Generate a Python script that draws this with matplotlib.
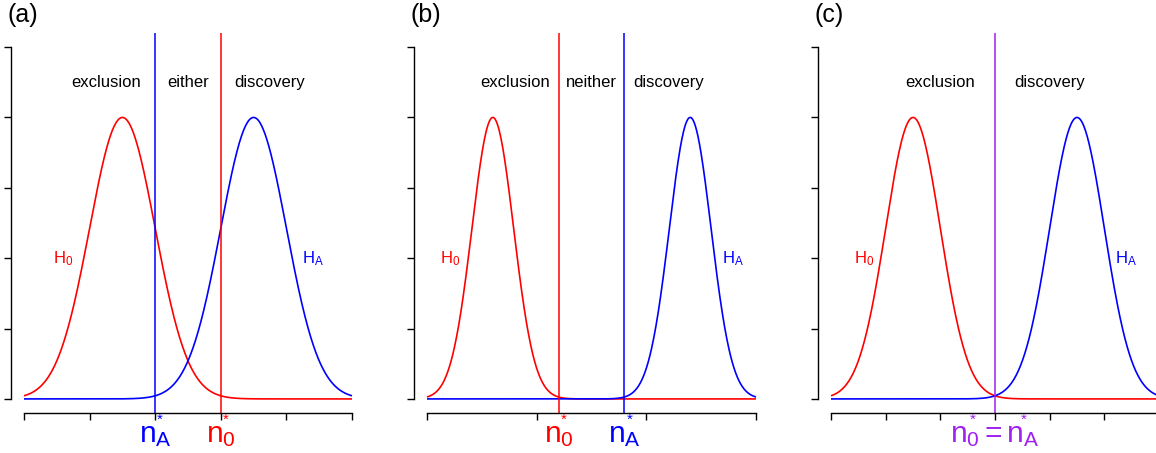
import numpy as np
import matplotlib
matplotlib.use("Agg")
import matplotlib.pyplot as plt

plt.rcParams['font.family'] = ['Liberation Sans', 'DejaVu Sans']
plt.rcParams['mathtext.fontset'] = 'custom'
plt.rcParams['mathtext.rm'] = 'Liberation Sans'
plt.rcParams['mathtext.it'] = 'Liberation Sans'
plt.rcParams['mathtext.default'] = 'regular'

# values (x in arbitrary units per panel)
panel_tags = ['(a)', '(b)', '(c)']
x_max = [5, 6, 6]
x_ticks = [[0, 1, 2, 3, 4, 5], [0, 2, 4, 6], [0, 1, 2, 3, 4, 5, 6]]
y_ticks = [0, 0.2, 0.4, 0.6, 0.8, 1.0]
mu_0 = [1.5, 1.2, 1.5]
mu_A = [3.5, 4.8, 4.5]
sigma = [0.5, 0.38, 0.5]
peak = 0.8
cut_0 = [3.0, 2.4, 3.0]   # n0*
cut_A = [2.0, 3.6, 3.0]   # nA*
region_names = [['exclusion', 'either', 'discovery'],
                ['exclusion', 'neither', 'discovery'],
                ['exclusion', 'discovery']]
region_x = [[1.25, 2.5, 3.75], [1.6, 3.0, 4.4], [2.0, 4.0]]
h0_x = [0.6, 0.42, 0.6]
hA_x = [4.4, 5.58, 5.4]

RED = '#FF0000'
BLUE = '#0000FF'
PURPLE = '#A020F0'

W, H = 1156, 453
fig = plt.figure(figsize=(W / 100, H / 100), dpi=100)

# pixel position of x=0 and x=x_max in each panel
x0_px = [24, 427, 831]
x1_px = [352, 756, 1159]

PT = 0.72  # points per pixel at dpi 100


def cut_label(ax, x, text, color, star_dx):
    # main label (n with subscript), baseline ~29 px under the axis line
    ax.annotate(text, xy=(x, 0), xycoords=('data', 'axes fraction'),
                xytext=(0, -29 * PT), textcoords='offset points',
                ha='center', va='baseline', fontsize=21.5, color=color)
    # small star sitting above each subscript
    for dx in star_dx:
        ax.annotate(r'$*$', xy=(x, 0), xycoords=('data', 'axes fraction'),
                    xytext=(dx * PT, -5.5 * PT), textcoords='offset points',
                    ha='center', va='center', fontsize=11, color=color)


for i in range(3):
    m = 0.04 * (x1_px[i] - x0_px[i])
    left = x0_px[i] - m
    right = x1_px[i] + m
    ax = fig.add_axes([left / W, (H - 413) / H, (right - left) / W, 380 / H])
    xm = x_max[i]
    ax.set_xlim(-0.04 * xm, 1.04 * xm)
    ax.set_ylim(-0.04, 1.04)

    x = np.linspace(0, xm, 600)
    y0 = peak * np.exp(-0.5 * ((x - mu_0[i]) / sigma[i]) ** 2)
    yA = peak * np.exp(-0.5 * ((x - mu_A[i]) / sigma[i]) ** 2)
    ax.plot(x, y0, color=RED, lw=1.2, solid_capstyle='butt')
    ax.plot(x, yA, color=BLUE, lw=1.2, solid_capstyle='butt')

    if cut_0[i] == cut_A[i]:
        ax.axvline(cut_0[i], color=PURPLE, lw=1.1)
        cut_label(ax, cut_0[i], r'$n_0 = n_A$', PURPLE, [-22, 29])
    else:
        ax.axvline(cut_A[i], color=BLUE, lw=1.1)
        ax.axvline(cut_0[i], color=RED, lw=1.1)
        cut_label(ax, cut_A[i], r'$n_A$', BLUE, [5])
        cut_label(ax, cut_0[i], r'$n_0$', RED, [5])

    for name, xp in zip(region_names[i], region_x[i]):
        ax.text(xp, 0.9, name, ha='center', va='center', fontsize=12)

    ax.text(h0_x[i], 0.4, r'$H_0$', color=RED, ha='center', va='center', fontsize=12)
    ax.text(hA_x[i], 0.4, r'$H_A$', color=BLUE, ha='center', va='center', fontsize=12)

    ax.set_xticks(x_ticks[i])
    ax.set_yticks(y_ticks)
    ax.tick_params(direction='out', length=5, width=1, labelleft=False,
                   labelbottom=False, color='black')
    for s in ['top', 'right']:
        ax.spines[s].set_visible(False)
    ax.spines['left'].set_bounds(0, 1)
    ax.spines['bottom'].set_bounds(0, xm)
    ax.spines['left'].set_linewidth(1)
    ax.spines['bottom'].set_linewidth(1)
    ax.patch.set_visible(False)

    fig.text((left - 3) / W, (H - 15) / H, panel_tags[i], fontsize=18,
             ha='left', va='center')

fig.savefig('out.png', dpi=100)
